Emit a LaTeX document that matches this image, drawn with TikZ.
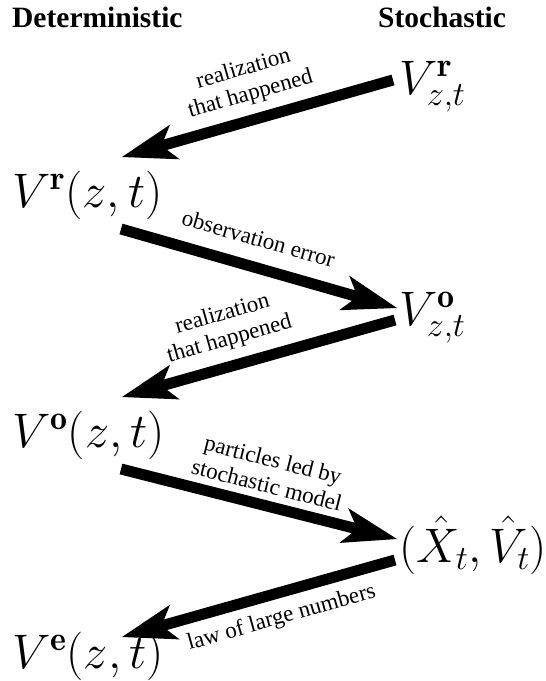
\RequirePackage{fix-cm}
\documentclass[tikz,border=0pt]{standalone}
\usepackage{fontspec}
\newfontfamily\tnr{Liberation Serif}
\usetikzlibrary{arrows.meta,calc}
\begin{document}
\begin{tikzpicture}[x=1pt,y=-1pt,
  mth/.style={inner sep=0pt, anchor=base west, font=\fontsize{48.5}{54}\selectfont},
  hdr/.style={inner sep=0pt, anchor=base west, font=\tnr\bfseries\fontsize{29.5}{32}\selectfont},
  lab/.style={inner sep=0pt, sloped, align=center, font=\tnr\fontsize{23}{26}\selectfont},
  bigarrow/.style={line width=11pt, -{Stealth[length=55pt,width=36pt,inset=14pt,line width=0pt]}}]
\useasboundingbox (0,0) rectangle (546,681);
\node[hdr] (hd) at (12,27) {Deterministic};
\node[hdr] (hs) at (378,27) {Stochastic};
\node[mth] (vrs) at (399,94) {$V^{\mathbf{r}}_{z,t}$};
\node[mth] (vrd) at (12,207) {$V^{\mathbf{r}}(z,t)$};
\node[mth] (vos) at (399,325) {$V^{\mathbf{o}}_{z,t}$};
\node[mth] (vod) at (12,447) {$V^{\mathbf{o}}(z,t)$};
\node[mth] (xv) at (399,562) {$(\hat{X}_t,\hat{V}_t)$};
\node[mth] (ved) at (12,668) {$V^{\mathbf{e}}(z,t)$};
\draw[bigarrow] ($(vrs.base west)+(-6,-14)$) -- node[lab,pos=0.5,above=9pt]{realization\\that happened} ($(vrd.base west)+(110,-50)$);
\draw[bigarrow] ($(vrd.base west)+(109,22)$) -- node[lab,pos=0.47,above=15pt]{observation error} ($(vos.base west)+(-2,-17)$);
\draw[bigarrow] ($(vos.base west)+(-4,-5)$) -- node[lab,pos=0.58,above=10pt]{realization\\that happened} ($(vod.base west)+(110,-50)$);
\draw[bigarrow] ($(vod.base west)+(109,22)$) -- node[lab,pos=0.51,above=7pt]{particles led by\\stochastic model} ($(xv.base west)+(-2,-23)$);
\draw[bigarrow] ($(xv.base west)+(-4,-2)$) -- node[lab,pos=0.44,below=9pt]{law of large numbers} ($(ved.base west)+(110,-31)$);
\end{tikzpicture}
\end{document}
